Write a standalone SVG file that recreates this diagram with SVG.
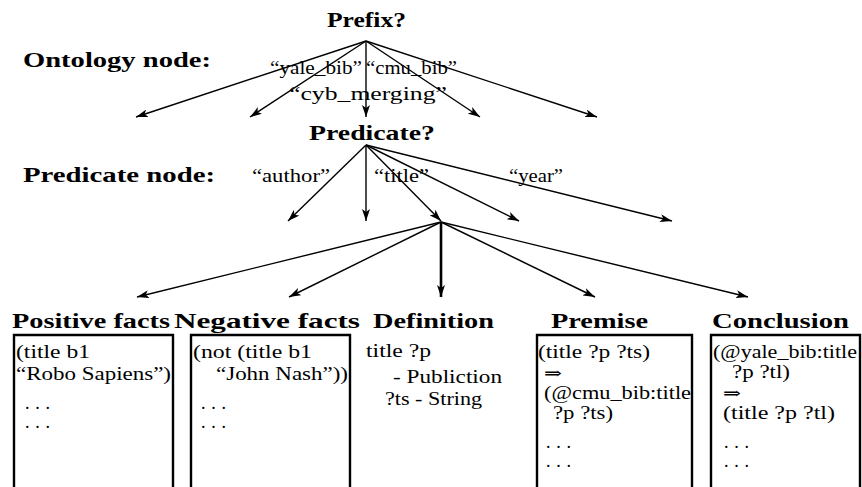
<svg xmlns="http://www.w3.org/2000/svg" width="862" height="487" viewBox="0 0 862 487" font-family="Liberation Serif, Times New Roman, DejaVu Serif, serif">
<defs>
<marker id="ah" viewBox="0 0 12 8" refX="12" refY="4" markerWidth="12" markerHeight="8" markerUnits="userSpaceOnUse" orient="auto">
<path d="M0,0 L12,4 L0,8 L3,4 Z" fill="#000"/>
</marker>
</defs>
<style>
text{font-family:"Liberation Serif","Times New Roman","DejaVu Serif",serif}
.t{font-size:18px;fill:#000}
.a{font-size:17px;fill:#000}
.b{font-size:21px;font-weight:bold;fill:#000}
.c{stroke:#000;stroke-width:1.4;fill:none;marker-end:url(#ah)}
.k{stroke:#000;stroke-width:2.6;fill:none;marker-end:url(#ah)}
.box{stroke:#000;stroke-width:2.4;fill:none}
</style>
<rect width="862" height="487" fill="#fff"/>
<g id="labels">
<text class="b" x="23" y="67" textLength="188" lengthAdjust="spacingAndGlyphs">Ontology node:</text>
<text class="b" x="23" y="182" textLength="192" lengthAdjust="spacingAndGlyphs">Predicate node:</text>
</g>
<g id="connectors">
<line class="c" x1="366" y1="41" x2="136" y2="117"/>
<line class="c" x1="366" y1="41" x2="250" y2="117"/>
<line class="c" x1="366" y1="41" x2="366" y2="117"/>
<line class="c" x1="366" y1="41" x2="480" y2="117"/>
<line class="c" x1="366" y1="41" x2="597" y2="117"/>
<line class="c" x1="366" y1="145" x2="288" y2="221"/>
<line class="c" x1="366" y1="145" x2="366" y2="221"/>
<line class="c" x1="366" y1="145" x2="441" y2="221"/>
<line class="c" x1="366" y1="145" x2="519" y2="221"/>
<line class="c" x1="366" y1="145" x2="672" y2="221"/>
<line class="c" x1="441" y1="222" x2="137" y2="297"/>
<line class="c" x1="441" y1="222" x2="289" y2="297"/>
<line class="k" x1="441" y1="222" x2="441" y2="297"/>
<line class="c" x1="441" y1="222" x2="595" y2="297"/>
<line class="c" x1="441" y1="222" x2="748" y2="297"/>
<text class="t" x="270" y="74" textLength="92" lengthAdjust="spacingAndGlyphs">“yale_bib”</text>
<text class="t" x="366" y="74" textLength="91" lengthAdjust="spacingAndGlyphs">“cmu_bib”</text>
<text class="t" x="289" y="100" textLength="158" lengthAdjust="spacingAndGlyphs">“cyb_merging”</text>
<text class="t" x="252" y="182" textLength="78" lengthAdjust="spacingAndGlyphs">“author”</text>
<text class="t" x="374" y="182" textLength="55" lengthAdjust="spacingAndGlyphs">“title”</text>
<text class="t" x="509" y="182" textLength="54" lengthAdjust="spacingAndGlyphs">“year”</text>
</g>
<g id="prefix">
<text class="b" x="327" y="27" textLength="79" lengthAdjust="spacingAndGlyphs">Prefix?</text>
</g>
<g id="predicate">
<text class="b" x="309" y="140" textLength="126" lengthAdjust="spacingAndGlyphs">Predicate?</text>
</g>
<g id="positive">
<text class="b" x="12" y="328" textLength="158" lengthAdjust="spacingAndGlyphs">Positive facts</text>
<path class="box" d="M14,495 V335 H173 V495"/>
<text class="t" x="16" y="358" textLength="74" lengthAdjust="spacingAndGlyphs">(title b1</text>
<text class="t" x="16" y="380" textLength="155" lengthAdjust="spacingAndGlyphs">“Robo Sapiens”)</text>
<text class="t" x="25" y="409" textLength="25" lengthAdjust="spacing">. . .</text>
<text class="t" x="25" y="428" textLength="25" lengthAdjust="spacing">. . .</text>
</g>
<g id="negative">
<text class="b" x="174" y="328" textLength="186" lengthAdjust="spacingAndGlyphs">Negative facts</text>
<path class="box" d="M191,495 V335 H350 V495"/>
<text class="t" x="193" y="358" textLength="119" lengthAdjust="spacingAndGlyphs">(not (title b1</text>
<text class="t" x="216" y="380" textLength="132" lengthAdjust="spacingAndGlyphs">“John Nash”))</text>
<text class="t" x="201" y="409" textLength="25" lengthAdjust="spacing">. . .</text>
<text class="t" x="201" y="428" textLength="25" lengthAdjust="spacing">. . .</text>
</g>
<g id="definition">
<text class="b" x="373" y="328" textLength="121" lengthAdjust="spacingAndGlyphs">Definition</text>
<text class="t" x="366" y="357" textLength="65" lengthAdjust="spacingAndGlyphs">title ?p</text>
<text class="t" x="393" y="383" textLength="109" lengthAdjust="spacingAndGlyphs">- Publiction</text>
<text class="t" x="385" y="405" textLength="97" lengthAdjust="spacingAndGlyphs">?ts - String</text>
</g>
<g id="premise">
<text class="b" x="551" y="328" textLength="97" lengthAdjust="spacingAndGlyphs">Premise</text>
<path class="box" d="M537,495 V335 H692 V495"/>
<text class="t" x="538" y="358" textLength="112" lengthAdjust="spacingAndGlyphs">(title ?p ?ts)</text>
<text class="a" x="544" y="379" textLength="18" lengthAdjust="spacingAndGlyphs">⇒</text>
<text class="t" x="544" y="399" textLength="147" lengthAdjust="spacingAndGlyphs">(@cmu_bib:title</text>
<text class="t" x="553" y="419" textLength="60" lengthAdjust="spacingAndGlyphs">?p ?ts)</text>
<text class="t" x="546" y="448" textLength="25" lengthAdjust="spacing">. . .</text>
<text class="t" x="546" y="467" textLength="25" lengthAdjust="spacing">. . .</text>
</g>
<g id="conclusion">
<text class="b" x="712" y="328" textLength="137" lengthAdjust="spacingAndGlyphs">Conclusion</text>
<path class="box" d="M711,495 V335 H860 V495"/>
<text class="t" x="713" y="358" textLength="144" lengthAdjust="spacingAndGlyphs">(@yale_bib:title</text>
<text class="t" x="732" y="378" textLength="58" lengthAdjust="spacingAndGlyphs">?p ?tl)</text>
<text class="a" x="723" y="399" textLength="18" lengthAdjust="spacingAndGlyphs">⇒</text>
<text class="t" x="723" y="419" textLength="112" lengthAdjust="spacingAndGlyphs">(title ?p ?tl)</text>
<text class="t" x="724" y="448" textLength="25" lengthAdjust="spacing">. . .</text>
<text class="t" x="724" y="467" textLength="25" lengthAdjust="spacing">. . .</text>
</g>
</svg>
